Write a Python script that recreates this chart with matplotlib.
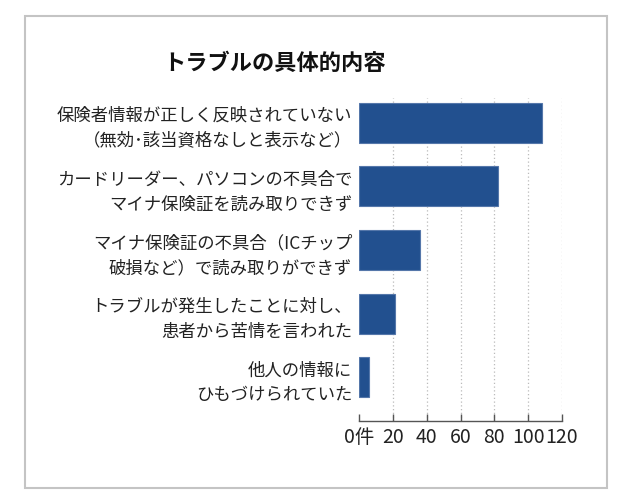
import matplotlib
matplotlib.use("Agg")
import matplotlib.pyplot as plt
from matplotlib.patches import Rectangle

plt.rcParams['font.family'] = ['Noto Sans CJK JP', 'DejaVu Sans']

labels = [
    "保険者情報が正しく反映されていない\n（無効･該当資格なしと表示など）",
    "カードリーダー、パソコンの不具合で\nマイナ保険証を読み取りできず",
    "マイナ保険証の不具合（ICチップ\n破損など）で読み取りができず",
    "トラブルが発生したことに対し、\n患者から苦情を言われた",
    "他人の情報に\nひもづけられていた",
]
counts = [108, 82, 36, 21, 6]
xticks = [0, 20, 40, 60, 80, 100, 120]
xtick_labels = ["0件", "20", "40", "60", "80", "100", "120"]

fig = plt.figure(figsize=(6.3, 5.04), dpi=100)
ax = fig.add_axes([0.570, 0.1647, 0.322, 0.641])

ypos = list(range(len(counts)))
ax.barh(ypos, counts, height=0.63, color="#22508f", edgecolor="#5577aa", linewidth=0.8, zorder=3)

ax.set_xlim(0, 120)
ax.set_ylim(4.684, -0.39)
ax.set_yticks(ypos)
ax.set_yticklabels(labels, fontsize=12.5, color="#222222", linespacing=1.5)
ax.tick_params(axis="y", length=0, pad=5)

ax.set_xticks(xticks)
ax.set_xticklabels(xtick_labels, fontsize=14, color="#222222")
ax.tick_params(axis="x", direction="in", length=5, width=1, color="#555555", pad=4)

for x in xticks[1:]:
    ax.axvline(x, color="#bbbbbb", linestyle=(0, (1, 2)), linewidth=0.9, zorder=1)

for s in ["top", "right", "left"]:
    ax.spines[s].set_visible(False)
ax.spines["bottom"].set_color("#555555")
ax.spines["bottom"].set_linewidth(1)

fig.text(0.2598, 0.875, "トラブルの具体的内容", fontsize=16, fontweight="bold",
         color="#111111", ha="left", va="center")

fig.patches.append(Rectangle((25 / 630, 16 / 504), 582 / 630, 472 / 504,
                             transform=fig.transFigure, fill=False,
                             edgecolor="#c4c4c4", linewidth=1.5))

fig.savefig("out.png", dpi=100)
